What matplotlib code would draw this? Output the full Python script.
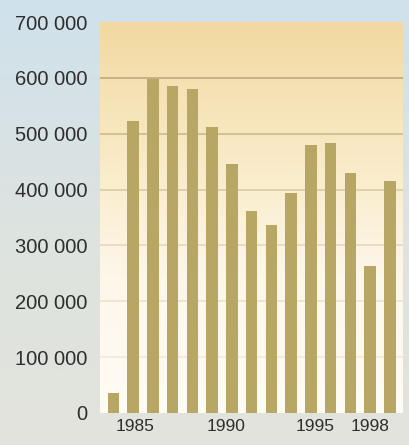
import numpy as np
import matplotlib.pyplot as plt
import matplotlib.transforms as mtransforms
from matplotlib.colors import LinearSegmentedColormap
from matplotlib.ticker import FuncFormatter

plt.rcParams['font.family'] = ['Liberation Sans', 'DejaVu Sans']

years = list(range(1984, 1999))
values = [36000, 523000, 598000, 586000, 580000, 512000, 446000, 361000,
          337000, 393000, 479000, 484000, 429000, 264000, 416000]
year_ticks = [1985, 1990, 1995, 1998]
y_ticks = [0, 100000, 200000, 300000, 400000, 500000, 600000, 700000]

bar_color = '#b8a664'
text_color = '#2e2e2e'

fig = plt.figure(figsize=(4.1, 4.45), dpi=100)

# figure background: pale blue at the top fading to warm grey
bg = fig.add_axes([0, 0, 1, 1], zorder=-10)
bg_cmap = LinearSegmentedColormap.from_list('bg', ['#e3e3dc', '#dde3e0', '#cfe1ec'])
grad = np.linspace(0, 1, 256).reshape(-1, 1)
bg.imshow(grad, aspect='auto', cmap=bg_cmap, origin='lower', extent=[0, 1, 0, 1])
bg.set_axis_off()

ax = fig.add_axes([100 / 410, 32 / 445, 303 / 410, 391 / 445])
ax.patch.set_alpha(0)

# plot area background: cream at the top, almost white at the bottom
area_cmap = LinearSegmentedColormap.from_list(
    'area', [(0, '#fffcf5'), (0.35, '#fdf7ea'), (0.6, '#faedcc'), (1, '#f2d9a1')])
ax.imshow(grad, aspect='auto', cmap=area_cmap, origin='lower',
          extent=[0, 1, 0, 1], transform=ax.transAxes, zorder=0)

ax.bar(years, values, width=0.58, color=bar_color, zorder=3)

# grid lines fade out towards the bottom
for v in y_ticks[1:-1]:
    a = 0.15 + 0.75 * (v / 600000) ** 2
    ax.axhline(v, color='#b5a577', alpha=a, lw=1.2, zorder=1)

ax.set_xlim(1984 - 0.68, 1998 + 0.66)
ax.set_ylim(0, 700000)

ax.set_yticks(y_ticks)
ax.yaxis.set_major_formatter(FuncFormatter(lambda v, p: f'{int(v):,}'.replace(',', ' ')))
ax.set_xticks(year_ticks)
ax.set_xticklabels([str(y) for y in year_ticks])
ax.tick_params(axis='both', length=0, colors=text_color)
ax.tick_params(axis='y', labelsize=14.5, pad=9)
ax.tick_params(axis='x', labelsize=12.5, pad=4)

# nudge the year labels like in the original layout
shifts = [2, -6, -16, -20]
for lab, dx in zip(ax.get_xticklabels(), shifts):
    lab.set_transform(lab.get_transform() +
                      mtransforms.ScaledTranslation(dx / 100, 0, fig.dpi_scale_trans))

for s in ax.spines.values():
    s.set_visible(False)

fig.savefig('out.png', dpi=100)
